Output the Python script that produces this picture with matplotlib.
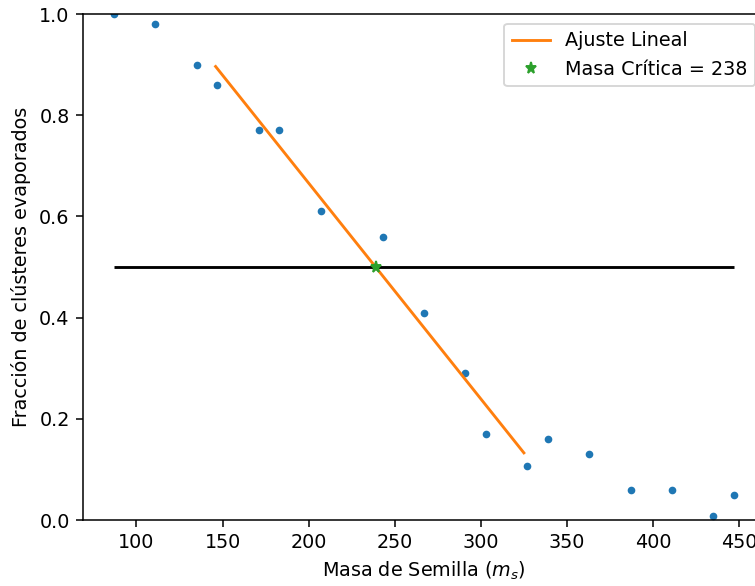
import numpy as np
import matplotlib
matplotlib.use('Agg')
import matplotlib.pyplot as plt

# masa de semilla y fraccion de clusteres evaporados
masa = [87, 111, 135, 147, 171, 183, 207, 243, 267, 291, 303, 327, 339, 363, 387, 411, 435, 447]
fraccion = [1.0, 0.98, 0.90, 0.86, 0.77, 0.77, 0.61, 0.56, 0.41, 0.29, 0.17, 0.107, 0.16, 0.13, 0.06, 0.06, 0.007, 0.05]

# puntos usados en el ajuste lineal (147 .. 327)
i0, i1 = 3, 12
rango_ajuste = [146, 325]
nivel = 0.5

x = np.array(masa)
y = np.array(fraccion)
m, b = np.polyfit(x[i0:i1], y[i0:i1], 1)
xc = (nivel - b) / m

dpi = 137.5
fig = plt.figure(figsize=(755 / dpi, 586 / dpi), dpi=dpi)
ax = fig.add_axes([83 / 755, 66 / 586, 682 / 755, 506 / 586])

ax.plot(x, y, '.')
xf = np.array(rango_ajuste)
ax.plot(xf, m * xf + b, label='Ajuste Lineal')
ax.hlines(nivel, x.min(), x.max(), color='k')
ax.plot(xc, nivel, '*', label='Masa Crítica = %d' % int(xc))

ax.set_ylim(0, 1)
ax.set_xlabel('Masa de Semilla ($m_s$)')
ax.set_ylabel('Fracción de clústeres evaporados')
ax.legend(loc='upper right')

fig.savefig('out.png', dpi=dpi)
